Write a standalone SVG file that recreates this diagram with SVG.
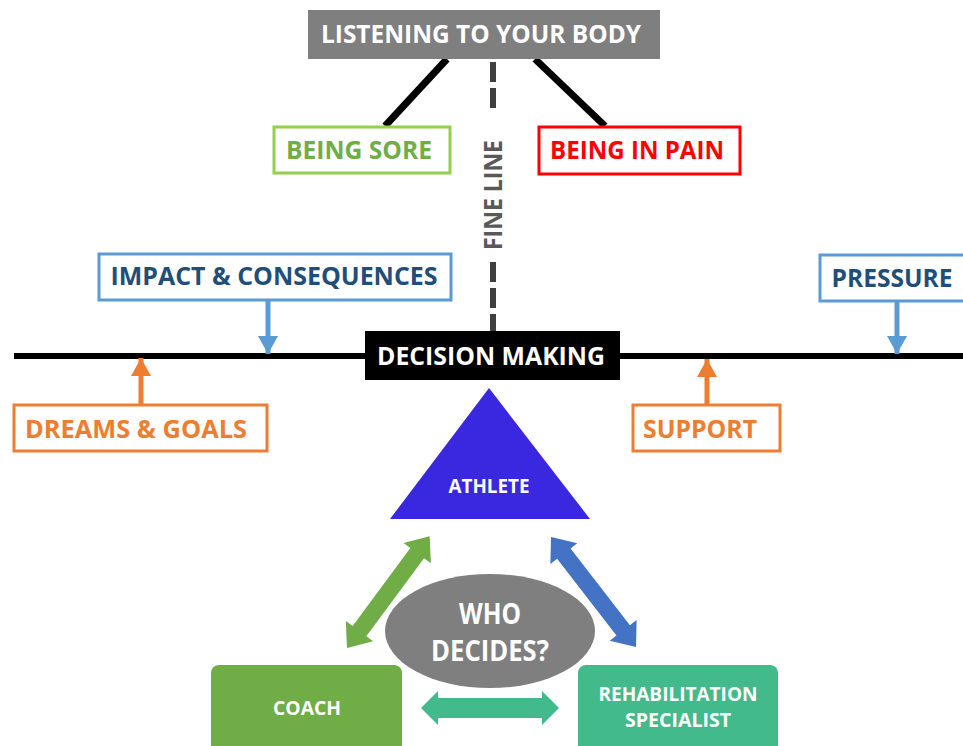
<svg xmlns="http://www.w3.org/2000/svg" width="963" height="746" viewBox="0 0 963 746">
<style>
  text { font-family: "Open Sans", "Liberation Sans", sans-serif; font-weight: bold; text-anchor: middle; }
  .box { fill: #ffffff; stroke-width: 3; }
  .t24 { font-size: 25px; }
  .wt { fill: #ffffff; }
  .blue-box { stroke: #5b9bd5; }
  .blue-txt { fill: #1f4e79; }
  .or-box { stroke: #ed7d31; }
  .or-txt { fill: #ed7d31; }
  .blk { stroke: #000000; stroke-width: 7; fill: none; }
  .arr-blue { stroke: #5b9bd5; stroke-width: 5; fill: none; }
  .arr-or { stroke: #ed7d31; stroke-width: 5; fill: none; }
</style>
<defs>
  <marker id="hb" markerUnits="userSpaceOnUse" markerWidth="20" markerHeight="20" refX="18" refY="10" orient="auto">
    <path d="M0,0 L18,10 L0,20 Z" fill="#5b9bd5"/>
  </marker>
  <marker id="ho" markerUnits="userSpaceOnUse" markerWidth="20" markerHeight="20" refX="18" refY="10" orient="auto">
    <path d="M0,0 L18,10 L0,20 Z" fill="#ed7d31"/>
  </marker>
</defs>
<rect width="963" height="746" fill="#ffffff"/>

<g id="connectors">
  <line class="blk" x1="447" y1="59" x2="385" y2="126"/>
  <line class="blk" x1="535" y1="59" x2="605" y2="126"/>
  <line x1="493" y1="62" x2="493" y2="108" stroke="#404040" stroke-width="6" stroke-dasharray="20 6"/>
  <line x1="493" y1="262" x2="493" y2="332" stroke="#404040" stroke-width="6" stroke-dasharray="20 6"/>
  <line x1="14" y1="356" x2="963" y2="356" stroke="#000000" stroke-width="6"/>
  <line class="arr-blue" x1="268" y1="300" x2="268" y2="354" marker-end="url(#hb)"/>
  <line class="arr-blue" x1="897" y1="302" x2="897" y2="354" marker-end="url(#hb)"/>
  <line class="arr-or" x1="141" y1="404" x2="141" y2="358" marker-end="url(#ho)"/>
  <line class="arr-or" x1="707" y1="404" x2="707" y2="359" marker-end="url(#ho)"/>
  <polygon transform="translate(347,648) rotate(-53.5)" fill="#70ad47" points="0,0 21,-17 21,-8.5 118,-8.5 118,-17 139,0 118,17 118,8.5 21,8.5 21,17"/>
  <polygon transform="translate(551,537) rotate(52.3)" fill="#4472c4" points="0,0 21,-17 21,-8.5 118,-8.5 118,-17 139,0 118,17 118,8.5 21,8.5 21,17"/>
  <polygon transform="translate(421,708)" fill="#43ba8b" points="0,0 17,-17 17,-10 121,-10 121,-17 138,0 121,17 121,10 17,10 17,17"/>
</g>

<g id="listening">
  <rect x="308" y="10" width="352" height="49" fill="#7f7f7f"/>
  <text class="t24 wt" x="481" y="43" textLength="320" lengthAdjust="spacingAndGlyphs">LISTENING TO YOUR BODY</text>
</g>
<g id="fine-line">
  <text x="0" y="0" transform="translate(502,195) rotate(-90)" font-size="25" fill="#595959" textLength="110" lengthAdjust="spacingAndGlyphs">FINE LINE</text>
</g>
<g id="being-sore">
  <rect class="box" x="274" y="127" width="176" height="46" stroke="#92d050"/>
  <text class="t24" x="359" y="159" fill="#70ad47" textLength="146" lengthAdjust="spacingAndGlyphs">BEING SORE</text>
</g>
<g id="being-in-pain">
  <rect class="box" x="539" y="127" width="201" height="47" stroke="#ff0000"/>
  <text class="t24" x="637" y="159" fill="#ff0000" textLength="174" lengthAdjust="spacingAndGlyphs">BEING IN PAIN</text>
</g>
<g id="impact">
  <rect class="box blue-box" x="99" y="254" width="352" height="46"/>
  <text class="t24 blue-txt" x="274" y="285" textLength="327" lengthAdjust="spacingAndGlyphs">IMPACT &amp; CONSEQUENCES</text>
</g>
<g id="pressure">
  <rect class="box blue-box" x="820" y="255" width="150" height="46"/>
  <text class="t24 blue-txt" x="892" y="287" textLength="121" lengthAdjust="spacingAndGlyphs">PRESSURE</text>
</g>
<g id="decision-making">
  <rect x="365" y="331" width="255" height="49" fill="#000000"/>
  <text class="t24 wt" x="491" y="365" textLength="228" lengthAdjust="spacingAndGlyphs">DECISION MAKING</text>
</g>
<g id="dreams-goals">
  <rect class="box or-box" x="14" y="405" width="253" height="46"/>
  <text class="t24 or-txt" x="136" y="438" textLength="222" lengthAdjust="spacingAndGlyphs">DREAMS &amp; GOALS</text>
</g>
<g id="support">
  <rect class="box or-box" x="633" y="405" width="147" height="46"/>
  <text class="t24 or-txt" x="700" y="438" textLength="114" lengthAdjust="spacingAndGlyphs">SUPPORT</text>
</g>
<g id="athlete">
  <polygon points="489,388 590,519 390,519" fill="#3a28e1"/>
  <text class="wt" x="489" y="493" font-size="19" textLength="81" lengthAdjust="spacingAndGlyphs">ATHLETE</text>
</g>
<g id="who-decides">
  <ellipse cx="490" cy="631" rx="105" ry="57" fill="#7f7f7f"/>
  <text class="wt" x="490" y="624" font-size="28" textLength="62" lengthAdjust="spacingAndGlyphs">WHO</text>
  <text class="wt" x="490" y="661" font-size="28" textLength="118" lengthAdjust="spacingAndGlyphs">DECIDES?</text>
</g>
<g id="coach">
  <rect x="211" y="665" width="191" height="95" rx="8" fill="#70ad47"/>
  <text class="wt" x="307" y="715" font-size="19" textLength="68" lengthAdjust="spacingAndGlyphs">COACH</text>
</g>
<g id="rehab">
  <rect x="578" y="665" width="200" height="95" rx="8" fill="#43ba8b"/>
  <text class="wt" x="678" y="701" font-size="19" textLength="159" lengthAdjust="spacingAndGlyphs">REHABILITATION</text>
  <text class="wt" x="678" y="727" font-size="19" textLength="106" lengthAdjust="spacingAndGlyphs">SPECIALIST</text>
</g>
</svg>
